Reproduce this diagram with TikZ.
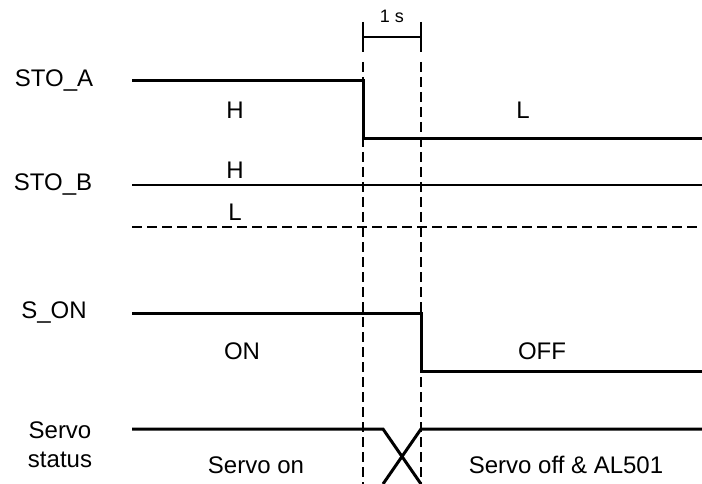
\documentclass[tikz,border=0pt]{standalone}
\usepackage{fontspec}
\setmainfont{Liberation Sans}
\usepackage{tikz}
\usetikzlibrary{positioning,calc}

\begin{document}
\begin{tikzpicture}[x=1pt,y=-1pt,
  lbl/.style={font=\fontsize{24}{29}\selectfont,inner sep=0pt,align=center},
  small/.style={font=\fontsize{18}{20}\selectfont,inner sep=0pt},
  wave/.style={line width=3pt},
  guide/.style={line width=1.3pt,dash pattern=on 10pt off 5pt},
  bar/.style={line width=1.8pt}]
\useasboundingbox[fill=white] (0,0) rectangle (702,484);
% signal names
\node[lbl] (stoA) at (54,81) {STO\_A};
\node[lbl] (stoB) at (53,185) {STO\_B};
\node[lbl] (son) at (54,313) {S\_ON};
\node[lbl] (servo) at (60,445) {Servo\\status};
% time marks and the 1 s span
\coordinate (t1top) at (363,22);
\coordinate (t1bar) at (363,52);
\coordinate (t1) at (363,62);
\coordinate (t1end) at (363,484);
\coordinate (t2top) at (421,22);
\coordinate (t2bar) at (421,52);
\coordinate (t2) at (421,62);
\coordinate (t2end) at (421,484);
\draw[bar] (t1top) -- (t1bar);
\draw[bar] (t2top) -- (t2bar);
\draw[bar] ($(t1top)!0.5!(t1bar)$) -- ($(t2top)!0.5!(t2bar)$);
\node[small] (span) at (392,16) {1 s};
\draw[guide] (t1) -- (t1end);
\draw[guide] (t2) -- (t2end);
% STO_A
\coordinate (a0) at (132,81);
\coordinate (a1) at (363,81);
\coordinate (a2) at (363,139);
\coordinate (a3) at (702,139);
\draw[wave] (a0) -- (a1) -- (a2) -- (a3);
\node[lbl] (aH) at (235,110) {H};
\node[lbl] (aL) at (523,110) {L};
% STO_B
\coordinate (b0) at (132,185);
\coordinate (b1) at (702,185);
\coordinate (b2) at (132,227);
\coordinate (b3) at (702,227);
\draw[wave,line width=2.2pt] (b0) -- (b1);
\draw[guide] (b2) -- (b3);
\node[lbl] (bH) at (235,170) {H};
\node[lbl] (bL) at (235,212) {L};
% S_ON
\coordinate (s0) at (132,313);
\coordinate (s1) at (421,313);
\coordinate (s2) at (421,371);
\coordinate (s3) at (702,371);
\draw[wave] (s0) -- (s1) -- (s2) -- (s3);
\node[lbl] (sOn) at (242,351) {ON};
\node[lbl] (sOff) at (542,351) {OFF};
% Servo status
\coordinate (v0) at (132,429);
\coordinate (v1) at (383,429);
\coordinate (v2) at (421,484);
\coordinate (v3) at (702,429);
\coordinate (v4) at (421,429);
\coordinate (v5) at (383,484);
\draw[wave] (v0) -- (v1) -- (v2);
\draw[wave] (v3) -- (v4) -- (v5);
\node[lbl] (vOn) at (256,465) {Servo on};
\node[lbl] (vOff) at (566,465) {Servo off \& AL501};
\end{tikzpicture}
\end{document}
